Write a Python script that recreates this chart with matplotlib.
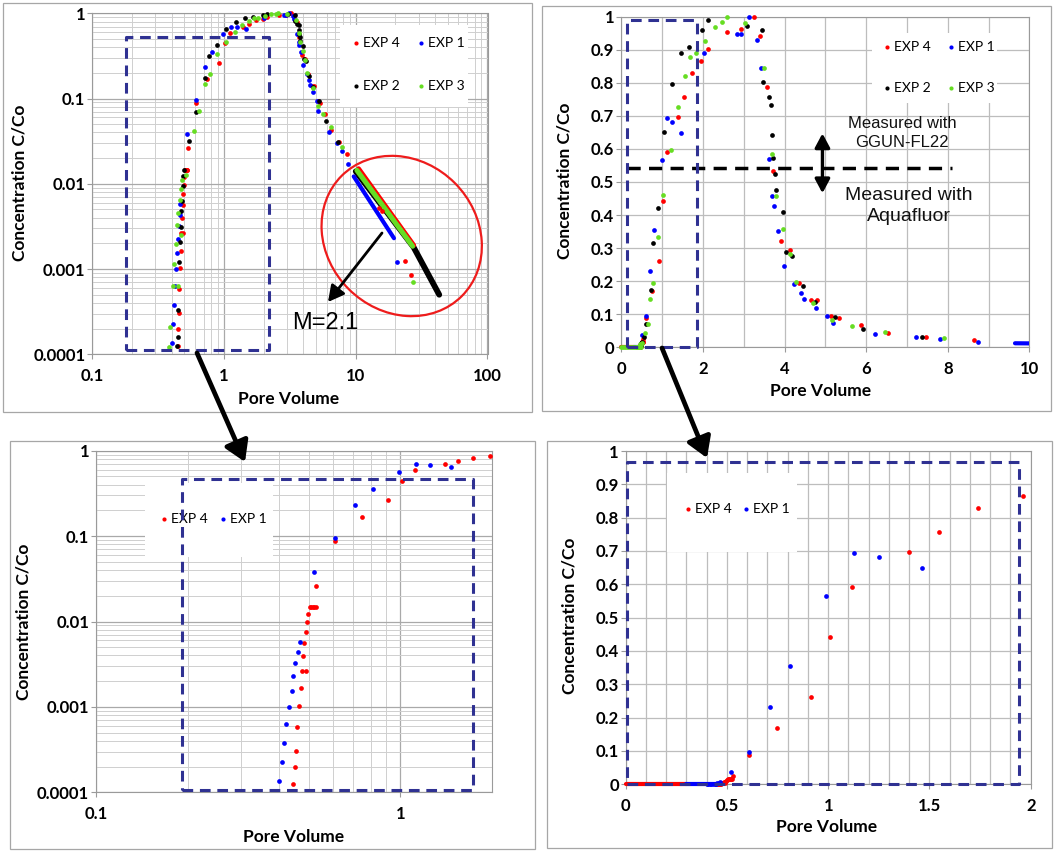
import matplotlib
matplotlib.use("Agg")
import matplotlib.pyplot as plt
from matplotlib.patches import Rectangle, Ellipse, FancyArrowPatch
from matplotlib.ticker import LogLocator, MultipleLocator, NullFormatter

plt.rcParams["font.family"] = ["Lato", "DejaVu Sans"]

W, H = 1060, 851
DPI = 100

RED, BLUE, BLACK, GREEN = "#ff0000", "#0000ff", "#000000", "#66dd22"
NAVY = "#2f3192"
AXIS_GRAY = "#9a9a9a"

# --- tracer breakthrough, pore volume vs C/Co ---
exp4_pv = [0.444, 0.449, 0.455, 0.459, 0.464, 0.470, 0.475, 0.479, 0.484, 0.489,
           0.491, 0.494, 0.499, 0.503, 0.509, 0.515, 0.521, 0.527, 0.530, 0.611,
           0.749, 0.914, 1.011, 1.119, 1.399, 1.549, 1.738, 1.964, 2.13, 2.60,
           2.93, 3.25, 3.41, 3.57, 3.71, 3.91, 4.14, 4.36, 4.64, 4.80,
           5.13, 5.34, 5.88, 6.54, 7.48, 8.64, 15.0, 15.7, 23.7, 26.2]
exp4_c = [0.000124, 0.000200, 0.000308, 0.000588, 0.00103, 0.00165, 0.00266, 0.00395, 0.00565, 0.0076,
          0.00266, 0.00977, 0.0121, 0.0147, 0.0147, 0.0147, 0.0147, 0.0147, 0.026, 0.088,
          0.169, 0.262, 0.443, 0.591, 0.698, 0.758, 0.830, 0.866, 0.903, 0.954,
          0.963, 1.000, 0.941, 0.786, 0.533, 0.323, 0.294, 0.194, 0.142, 0.142,
          0.0947, 0.089, 0.066, 0.043, 0.031, 0.0222, 0.0052, 0.00475, 0.00123, 0.00086]

exp1_pv = [0.400, 0.408, 0.415, 0.421, 0.430, 0.439, 0.445, 0.452, 0.460, 0.467,
           0.519, 0.611, 0.711, 0.810, 0.989, 1.128, 1.251, 1.463, 2.02, 2.83,
           2.94, 3.14, 3.33, 3.42, 3.61, 3.70, 3.74, 3.83, 3.98, 4.24,
           4.40, 4.49, 4.76, 5.05, 5.20, 6.22, 7.22, 7.81, 8.75, 20.7]
exp1_c = [0.000137, 0.000225, 0.000378, 0.000625, 0.00101, 0.00155, 0.00228, 0.00324, 0.00435, 0.00575,
          0.038, 0.096, 0.232, 0.356, 0.566, 0.693, 0.683, 0.649, 0.891, 0.947,
          0.947, 1.000, 0.930, 0.846, 0.570, 0.458, 0.426, 0.353, 0.247, 0.192,
          0.163, 0.145, 0.118, 0.0947, 0.072, 0.040, 0.030, 0.0242, 0.017, 0.0012]

exp2_pv = [0.438, 0.446, 0.446, 0.457, 0.463, 0.468, 0.473, 0.479, 0.485, 0.488,
           0.499, 0.545, 0.614, 0.720, 0.769, 0.891, 1.038, 1.243, 1.455, 1.659,
           1.978, 2.125, 3.08, 3.45, 3.47, 3.61, 3.68, 3.70, 3.73, 3.77,
           3.79, 3.97, 4.04, 4.19, 4.45, 4.74, 5.23, 5.92, 7.37]
exp2_c = [0.000125, 0.00016, 0.00033, 0.0012, 0.00208, 0.00312, 0.00476, 0.00624, 0.0095, 0.0122,
          0.0147, 0.0314, 0.070, 0.173, 0.315, 0.421, 0.650, 0.795, 0.891, 0.907,
          0.960, 0.989, 0.973, 0.960, 0.803, 0.758, 0.732, 0.642, 0.574, 0.525,
          0.475, 0.410, 0.289, 0.276, 0.184, 0.136, 0.093, 0.054, 0.031]

exp3_pv = [0.379, 0.390, 0.408, 0.418, 0.430, 0.443, 0.449, 0.449, 0.463, 0.468,
           0.470, 0.479, 0.514, 0.589, 0.646, 0.712, 0.777, 0.892, 1.03, 1.22,
           1.38, 1.55, 1.69, 1.82, 2.05, 2.29, 2.47, 2.58, 3.02, 3.50,
           3.70, 3.80, 3.96, 4.13, 4.28, 4.70, 5.16, 5.65, 6.46, 7.91, 27.4]
exp3_c = [0.000121, 0.00021, 0.00063, 0.00116, 0.00199, 0.00326, 0.00063, 0.00455, 0.0065, 0.00254,
          0.0087, 0.011, 0.0128, 0.042, 0.071, 0.147, 0.196, 0.334, 0.462, 0.598,
          0.728, 0.822, 0.877, 0.889, 0.925, 0.970, 0.983, 1.000, 0.980, 0.844,
          0.586, 0.457, 0.358, 0.281, 0.198, 0.134, 0.082, 0.065, 0.046, 0.027, 0.0007]

# densely logged stretches (continuous logger), drawn as strokes
exp4_base_pv, exp4_base_c = [0.0, 0.30], [0.0, 0.0]
exp1_base_pv, exp1_base_c = [0.30, 0.47], [0.0, 0.0]
exp3_base_pv, exp3_base_c = [0.0, 0.48], [0.0, 0.0]
exp1_tail_pv, exp1_tail_c = [9.65, 19.5], [0.0122, 0.0023]
exp2_tail_pv, exp2_tail_c = [10.0, 27.5, 43.0], [0.0140, 0.0018, 0.0005]
exp4_tail_pv, exp4_tail_c = [10.5, 27.5], [0.0150, 0.0019]
exp3_tail_pv, exp3_tail_c = [10.2, 27.0], [0.0144, 0.00185]

# axis ticks
log_pv_ticks, log_pv_labels = [0.1, 1, 10, 100], ["0.1", "1", "10", "100"]
zoom_log_pv_ticks, zoom_log_pv_labels = [0.1, 1], ["0.1", "1"]
log_c_ticks, log_c_labels = [0.0001, 0.001, 0.01, 0.1, 1], ["0.0001", "0.001", "0.01", "0.1", "1"]
lin_c_ticks = [i / 10 for i in range(11)]
lin_c_labels = ["0", "0.1", "0.2", "0.3", "0.4", "0.5", "0.6", "0.7", "0.8", "0.9", "1"]
lin_pv_ticks, lin_pv_labels = [0, 2, 4, 6, 8, 10], ["0", "2", "4", "6", "8", "10"]
zoom_pv_ticks, zoom_pv_labels = [0, 0.5, 1, 1.5, 2], ["0", "0.5", "1", "1.5", "2"]

# detector switch level (GGUN-FL22 above, Aquafluor below)
switch_c = 0.543

fig = plt.figure(figsize=(W / DPI, H / DPI), dpi=DPI)


def fx(px):
    return px / W


def fy(py):
    return 1 - py / H


def px_axes(left, top, right, bottom):
    return fig.add_axes([fx(left), fy(bottom), (right - left) / W, (bottom - top) / H])


def style(ax, log, xt, xl, yt, yl):
    ax.set_axisbelow(True)
    for s in ax.spines.values():
        s.set_color(AXIS_GRAY)
        s.set_linewidth(0.8)
    ax.set_xticks(xt, labels=xl)
    ax.set_yticks(yt, labels=yl)
    ax.tick_params(which="major", direction="out", length=3.5, width=0.8, color=AXIS_GRAY)
    ax.tick_params(axis="x", which="major", pad=6.5)
    ax.tick_params(axis="y", which="major", pad=1.5)
    ax.tick_params(which="minor", length=0)
    if log:
        ax.grid(which="major", color="#a9a9a9", lw=0.9)
        ax.grid(which="minor", color="#cfcfcf", lw=0.7)
    else:
        ax.grid(which="both", color="#bdbdbd", lw=0.9)
    for lab in ax.get_xticklabels() + ax.get_yticklabels():
        lab.set_fontfamily("Lato")
        lab.set_fontweight("bold")
        lab.set_fontsize(12)


def dots(ax, pv, c, color):
    x0, x1 = ax.get_xlim()
    pts = [(x, y) for x, y in zip(pv, c) if x0 <= x <= x1 and y > 0]
    ax.plot([p[0] for p in pts], [p[1] for p in pts], "o", ms=3.4, mec="none",
            color=color, zorder=3, clip_on=False)


def run(ax, pv, c, color, lw, z=3, clip=True):
    ax.plot(pv, c, "-", color=color, lw=lw, solid_capstyle="round", zorder=z, clip_on=clip)


def dashed_box(ax, x0, x1, y0, y1):
    ax.plot([x0, x1, x1, x0, x0], [y0, y0, y1, y1, y0], color=NAVY, lw=2.2,
            ls=(0, (3.5, 2.2)), zorder=6, clip_on=False)


def key(ax, box, cols, rows, labels, colors):
    l, t, r, b = box
    ax.add_patch(Rectangle((fx(l), fy(b)), (r - l) / W, (b - t) / H, transform=fig.transFigure,
                           facecolor="white", edgecolor="none", zorder=4, clip_on=False))
    for i, (lab, col) in enumerate(zip(labels, colors)):
        px, py = cols[i % 2], rows[i // 2]
        ax.plot([fx(px)], [fy(py)], "o", ms=3.0, mec="none", color=col,
                transform=fig.transFigure, clip_on=False, zorder=5)
        ax.text(fx(px + 7), fy(py), lab, transform=fig.transFigure, ha="left", va="center",
                fontsize=10, family="Lato", zorder=5)


all_labels = ["EXP 4", "EXP 1", "EXP 2", "EXP 3"]
all_colors = [RED, BLUE, BLACK, GREEN]

# ---------- top left: full curve, log-log ----------
ax1 = px_axes(92.3, 13.3, 487.5, 354.3)
ax1.set_xscale("log")
ax1.set_yscale("log")
ax1.set_xlim(0.1, 100)
ax1.set_ylim(0.0001, 1)
ax1.xaxis.set_minor_locator(LogLocator(base=10, subs=range(2, 10)))
ax1.yaxis.set_minor_locator(LogLocator(base=10, subs=range(2, 10)))
ax1.xaxis.set_minor_formatter(NullFormatter())
ax1.yaxis.set_minor_formatter(NullFormatter())
style(ax1, True, log_pv_ticks, log_pv_labels, log_c_ticks, log_c_labels)
run(ax1, exp2_tail_pv, exp2_tail_c, BLACK, 4.2, z=2)
run(ax1, exp4_tail_pv, exp4_tail_c, RED, 3.6, z=2)
run(ax1, exp3_tail_pv, exp3_tail_c, GREEN, 3.6)
run(ax1, exp1_tail_pv, exp1_tail_c, BLUE, 3.0)
for pv, c, col in [(exp4_pv, exp4_c, RED), (exp1_pv, exp1_c, BLUE),
                   (exp2_pv, exp2_c, BLACK), (exp3_pv, exp3_c, GREEN)]:
    dots(ax1, pv, c, col)
dashed_box(ax1, 0.18, 2.2, 0.000112, 0.523)
key(ax1, (340, 25, 468, 107), (356, 421), (43, 86), all_labels, all_colors)

# ---------- top right: full curve, linear ----------
ax2 = px_axes(621.3, 16.7, 1029.3, 347.3)
ax2.set_xlim(0, 10)
ax2.set_ylim(0, 1)
ax2.xaxis.set_minor_locator(MultipleLocator(1))
style(ax2, False, lin_pv_ticks, lin_pv_labels, lin_c_ticks, lin_c_labels)
run(ax2, exp4_base_pv, exp4_base_c, RED, 3.0, clip=False)
run(ax2, exp1_base_pv, exp1_base_c, BLUE, 3.0, clip=False)
run(ax2, exp3_base_pv, exp3_base_c, GREEN, 3.4, z=4, clip=False)
run(ax2, exp1_tail_pv, exp1_tail_c, BLUE, 3.0)
for pv, c, col in [(exp4_pv, exp4_c, RED), (exp1_pv, exp1_c, BLUE),
                   (exp2_pv, exp2_c, BLACK), (exp3_pv, exp3_c, GREEN)]:
    dots(ax2, pv, c, col)
dashed_box(ax2, 0.15, 1.86, 0.0, 0.99)
ax2.plot([0.13, 8.1], [switch_c, switch_c], color="black", lw=2.5, ls=(0, (3.8, 2.4)), zorder=5)
ax2.annotate("", xy=(4.93, 0.647), xytext=(4.93, 0.466),
             arrowprops=dict(arrowstyle="<|-|>,head_length=0.6,head_width=0.32", lw=2.4,
                             color="black", shrinkA=0, shrinkB=0, mutation_scale=14), zorder=5)
key(ax2, (872, 33, 997, 103), (886.7, 950.7), (47.3, 88.3), all_labels, all_colors)

# ---------- bottom left: early breakthrough, log-log ----------
ax3 = px_axes(96, 450.7, 492, 792.3)
ax3.set_xscale("log")
ax3.set_yscale("log")
ax3.set_xlim(0.1, 2)
ax3.set_ylim(0.0001, 1)
ax3.xaxis.set_minor_locator(LogLocator(base=10, subs=range(2, 10)))
ax3.yaxis.set_minor_locator(LogLocator(base=10, subs=range(2, 10)))
ax3.xaxis.set_minor_formatter(NullFormatter())
ax3.yaxis.set_minor_formatter(NullFormatter())
style(ax3, True, zoom_log_pv_ticks, zoom_log_pv_labels, log_c_ticks, log_c_labels)
dots(ax3, exp4_pv, exp4_c, RED)
dots(ax3, exp1_pv, exp1_c, BLUE)
key(ax3, (145, 483, 273, 557), (164.3, 223.3), (519.3,), all_labels[:2], all_colors[:2])
dashed_box(ax3, 0.191, 1.73, 0.000106, 0.462)

# ---------- bottom right: early breakthrough, linear ----------
ax4 = px_axes(625.7, 451, 1030.7, 784.3)
ax4.set_xlim(0, 2)
ax4.set_ylim(0, 1)
ax4.xaxis.set_minor_locator(MultipleLocator(0.1))
style(ax4, False, zoom_pv_ticks, zoom_pv_labels, lin_c_ticks, lin_c_labels)
run(ax4, exp4_base_pv, exp4_base_c, RED, 3.0, clip=False)
run(ax4, exp1_base_pv, exp1_base_c, BLUE, 3.0, clip=False)
dots(ax4, exp4_pv, exp4_c, RED)
dots(ax4, exp1_pv, exp1_c, BLUE)
key(ax4, (667, 473, 797, 552), (687.7, 746), (509.3,), all_labels[:2], all_colors[:2])
dashed_box(ax4, 0.005, 1.944, 0.0, 0.968)

# ---------- overlay in figure pixels: frames, labels, callouts ----------
ov = fig.add_axes([0, 0, 1, 1], zorder=10)
ov.set_xlim(0, W)
ov.set_ylim(H, 0)
ov.axis("off")
ov.patch.set_visible(False)

for l, t, r, b in [(3, 3, 532, 412), (542, 6, 1051, 411), (10, 441, 535, 849), (547, 441, 1052, 848)]:
    ov.add_patch(Rectangle((l, t), r - l, b - t, fill=False, edgecolor="#a6a6a6", lw=0.9))

lab_font = dict(family="Lato", weight="bold", fontsize=12.5, ha="center", va="center")
for x, y in [(19.3, 183), (565, 181), (23.3, 622), (569.3, 616)]:
    ov.text(x, y, "Concentration C/Co", rotation=90, **lab_font)
for x, y in [(289, 399), (821, 391), (294, 837), (827, 827)]:
    ov.text(x, y, "Pore Volume", **lab_font)

ov.add_patch(Ellipse((401.7, 236), 170, 150, angle=45, fill=False, edgecolor="#ee1c1c", lw=1.6))
ov.add_patch(FancyArrowPatch((382, 233), (328, 302), arrowstyle="-|>,head_length=0.6,head_width=0.32",
                             mutation_scale=16, lw=2.0, color="black", shrinkA=0, shrinkB=0))
ov.text(325, 323, "M=2.1", family="Liberation Sans", fontsize=17, ha="center", va="center")

ov.text(902, 133, "Measured with\nGGUN-FL22", family="Liberation Sans", fontsize=12,
        ha="center", va="center", linespacing=1.3, color="#111111")
ov.text(909, 206, "Measured with\nAquafluor", family="Liberation Sans", fontsize=14,
        ha="center", va="center", linespacing=1.3, color="#111111")

for (x0, y0), (x1, y1) in [((197, 353), (245, 462)), ((662, 348), (707, 458))]:
    ov.add_patch(FancyArrowPatch((x0, y0), (x1, y1), arrowstyle="-|>,head_length=0.55,head_width=0.34",
                                 mutation_scale=22, lw=3.4, color="black", shrinkA=0, shrinkB=0))

fig.savefig("out.png", dpi=DPI, facecolor="white")
